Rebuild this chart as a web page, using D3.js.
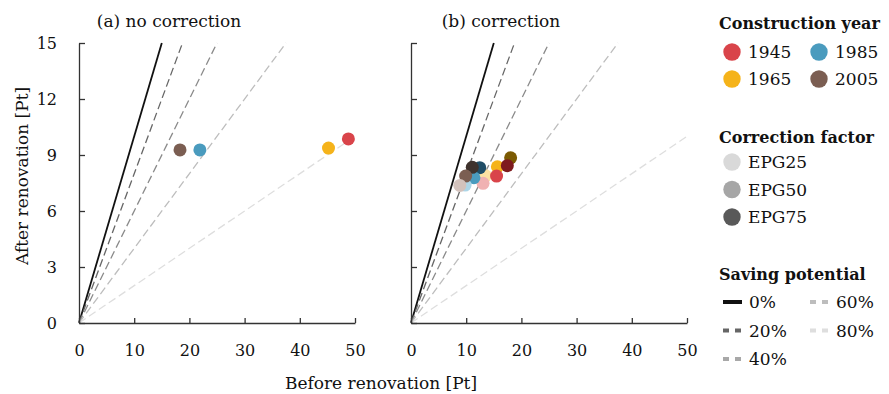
<!DOCTYPE html>
<html>
<head>
<meta charset="utf-8">
<title>Renovation scatter</title>
<script src="https://d3js.org/d3.v7.min.js"></script>
<style>
  body { margin: 0; background: #fff; }
  svg text { font-family: "DejaVu Serif", serif; fill: #111; }
  .axis path, .axis line { stroke: #333; stroke-width: 1.3; }
  .axis text { font-size: 16px; }
</style>
</head>
<body>
<script>
// categories
var years = ["1945", "1965", "1985", "2005"];
var factors = ["EPG25", "EPG50", "EPG75"];
var savings = [0, 20, 40, 60, 80];
var xTicks = [0, 10, 20, 30, 40, 50];
var yTicks = [0, 3, 6, 9, 12, 15];

// (a) no correction: one point per construction year
var beforeA = [48.8, 45.2, 21.9, 18.3];
var afterA  = [9.86, 9.37, 9.27, 9.27];

// (b) correction: per year, EPG25 / EPG50 / EPG75
var beforeB = [[13.05, 15.5, 17.45], [13.5, 15.65, 18.05], [9.8, 11.4, 12.45], [8.85, 9.9, 11.1]];
var afterB  = [[7.48, 7.87, 8.43], [7.89, 8.37, 8.85], [7.39, 7.78, 8.32], [7.37, 7.87, 8.34]];

// colours: light / base / dark per year
var yearShades = [
  ["#f0b2b2", "#d9444a", "#7e1b1e"],
  ["#fde2a2", "#f5b31a", "#7b5a02"],
  ["#acd5e7", "#4a9bbe", "#1f4d66"],
  ["#d3c2bc", "#7b5e52", "#3e322d"]
];
var factorGreys = ["#d9d9d9", "#a6a6a6", "#595959"];
var lineColors = ["#111", "#666", "#8a8a8a", "#bdbdbd", "#dedede"];
var legendLineColors = ["#111", "#666", "#a8a8a8", "#bdbdbd", "#dedede"];

var W = 889, H = 394;
var svg = d3.select("body").append("svg")
    .attr("width", W).attr("height", H);

var yScale = d3.scaleLinear().domain([0, 15]).range([323, 43]);

function panel(x0, title, showY) {
  var x = d3.scaleLinear().domain([0, 50]).range([x0, x0 + 276]);
  var g = svg.append("g");

  // saving potential guide lines  y = (1 - p) x
  savings.forEach(function(p, i) {
    var k = 1 - p / 100;
    var xe = Math.min(50, 15 / k);
    g.append("line")
      .attr("x1", x(0)).attr("y1", yScale(0))
      .attr("x2", x(xe)).attr("y2", yScale(xe * k))
      .attr("stroke", lineColors[i])
      .attr("stroke-width", i == 0 ? 1.8 : 1.3)
      .attr("stroke-dasharray", i == 0 ? null : "8,4");
  });

  g.append("g").attr("class", "axis")
    .attr("transform", "translate(0," + yScale(0) + ")")
    .call(d3.axisBottom(x).tickValues(xTicks).tickSizeInner(-5).tickSizeOuter(0).tickPadding(22));
  g.append("g").attr("class", "axis")
    .attr("transform", "translate(" + x(0) + ",0)")
    .call(d3.axisLeft(yScale).tickValues(yTicks).tickSizeInner(-6).tickSizeOuter(0).tickPadding(22)
      .tickFormat(showY ? d3.format("d") : ""));
  svg.selectAll(".axis text").attr("fill", "#111");

  svg.append("text")
    .attr("x", x(16.3)).attr("y", 27)
    .attr("text-anchor", "middle")
    .attr("font-size", 17)
    .text(title);
  return { g: g, x: x };
}

var pa = panel(79, "(a) no correction", true);
var pb = panel(411, "(b) correction", false);

// points (a)
years.forEach(function(yr, i) {
  pa.g.append("circle")
    .attr("cx", pa.x(beforeA[i])).attr("cy", yScale(afterA[i]))
    .attr("r", 6.5).attr("fill", yearShades[i][1]);
});

// points (b)
var drawOrder = [1, 0, 2, 3];
drawOrder.forEach(function(i) {
  [2, 1, 0].forEach(function(j) {
    pb.g.append("circle")
      .attr("cx", pb.x(beforeB[i][j])).attr("cy", yScale(afterB[i][j]))
      .attr("r", 6.5).attr("fill", yearShades[i][j]);
  });
});

// axis titles
svg.append("text")
  .attr("transform", "translate(28,176) rotate(-90)")
  .attr("text-anchor", "middle").attr("font-size", 17)
  .text("After renovation [Pt]");
svg.append("text")
  .attr("x", 381).attr("y", 389)
  .attr("text-anchor", "middle").attr("font-size", 17)
  .text("Before renovation [Pt]");

// legend
var lg = svg.append("g");
function legendTitle(y, t) {
  lg.append("text").attr("x", 719).attr("y", y)
    .attr("font-size", 16).attr("font-weight", "bold").text(t);
}
function legendLabel(x, y, t) {
  lg.append("text").attr("x", x).attr("y", y + 6)
    .attr("font-size", 17).text(t);
}

legendTitle(29, "Construction year");
years.forEach(function(yr, i) {
  var cx = i < 2 ? 732 : 819;
  var cy = 52 + (i % 2) * 27;
  lg.append("circle").attr("cx", cx).attr("cy", cy).attr("r", 8.7)
    .attr("fill", yearShades[i][1]);
  legendLabel(cx + 16, cy, yr);
});

legendTitle(143, "Correction factor");
factors.forEach(function(f, i) {
  var cy = 162 + i * 27.5;
  lg.append("circle").attr("cx", 732).attr("cy", cy).attr("r", 8.7)
    .attr("fill", factorGreys[i]);
  legendLabel(748, cy, f);
});

legendTitle(280, "Saving potential");
savings.forEach(function(p, i) {
  var lx = i < 3 ? 723 : 810;
  var ly = 302 + (i < 3 ? i : i - 3) * 28.5;
  lg.append("line")
    .attr("x1", lx).attr("x2", lx + 19)
    .attr("y1", ly).attr("y2", ly)
    .attr("stroke", legendLineColors[i])
    .attr("stroke-width", 4)
    .attr("stroke-dasharray", i == 0 ? null : "6,6");
  legendLabel(lx + 26, ly, p + "%");
});
</script>
</body>
</html>
